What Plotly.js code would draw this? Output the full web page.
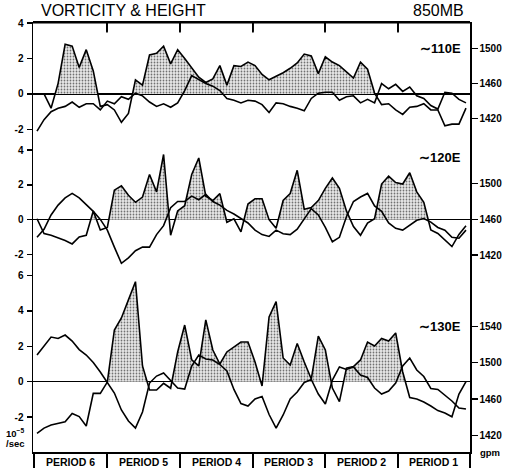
<!DOCTYPE html>
<html><head><meta charset="utf-8">
<script src="https://cdn.plot.ly/plotly-3.0.1.min.js"></script>
<style>html,body{margin:0;padding:0;background:#fff}#chart{width:527px;height:468px}</style>
</head><body><div id="chart"></div>
<script>
// ---- data ----
const days = [0,1,2,3,4,5,6,7,8,9,10,11,12,13,14,15,16,17,18,19,20,21,22,23,24,25,26,27,28,29,30,
  31,32,33,34,35,36,37,38,39,40,41,42,43,44,45,46,47,48,49,50,51,52,53,54,55,56,57,58,59,60,61];
const periodLabels = ["PERIOD 6","PERIOD 5","PERIOD 4","PERIOD 3","PERIOD 2","PERIOD 1"];
const periodEdges = [-0.43, 9.95, 20.33, 30.7, 40.95, 51.33, 61.55];
const panelLabels = ["\u223C110E","\u223C120E","\u223C130E"];

// 110E (vorticity 10^-5/sec, height gpm)
const vort110 = [null,0,-0.8,0.6,2.8,2.7,1.5,2.5,1.3,-0.7,-0.6,-0.9,-1.6,-1.1,0.8,0.5,2.2,2.3,2.7,1.7,
  2.5,2.0,1.45,0.95,0.65,0.85,1.6,0.5,1.6,1.55,1.8,1.6,1.1,0.8,1.0,1.2,1.45,1.75,2.25,2.15,1.15,2.1,1.8,
  1.6,1.25,0.9,1.8,1.4,0.05,-0.6,-0.55,-0.9,-1.15,-0.75,-0.7,-0.55,-0.9,-0.9,-1.8,-1.7,-1.7,-0.8];
const hgt110 = [1406,1419,1428,1432,1434,1439,1433,1437,1437,1430,1440,1437,1445,1442,1449,1446,1439,
  1434,1437,1433,1438,1452,1469,1464,1460,1457,1452,1443,1441,1438,1441,1440,1436,1427,1438,1437,1434,
  1432,1429,1443,1449,1450,1450,1441,1445,1446,1438,1442,1438,1460,1454,1459,1451,1456,1446,1443,1435,
  1431,1450,1449,1442,1438];

// 120E
const vort120 = [0.05,-0.8,-0.9,-1.05,-1.2,-1.4,-1.0,-0.9,0.5,-0.6,-0.45,1.7,1.95,1.4,1.0,1.3,2.6,1.6,
  3.75,-0.9,0.5,0.8,2.6,3.55,1.35,1.1,1.5,-0.15,0.05,-0.7,0.9,1.2,1.2,0.0,-0.5,1.1,1.5,2.84,0.6,0.7,1.1,
  1.8,2.4,1.8,0.5,-0.4,-0.9,-0.2,0.05,2.05,2.5,2.14,2.05,2.7,1.6,1.0,-0.6,-0.8,-1.2,-1.55,-0.85,-0.35];
const hgt120 = [1440,1449,1465,1476,1484,1489,1484,1477,1469,1460,1448,1429,1411,1417,1425,1429,1429,
  1443,1453,1473,1480,1480,1486,1482,1488,1480,1476,1470,1466,1461,1456,1448,1443,1441,1448,1444,1443,
  1449,1460,1472,1465,1451,1435,1440,1463,1480,1485,1489,1475,1469,1456,1450,1448,1454,1459,1461,1457,
  1451,1448,1440,1439,1448];

// 130E
const vort130 = [-2.92,-2.62,-2.45,-2.36,-2.26,-1.80,-1.97,-2.50,-0.66,-0.66,-0.02,2.92,3.60,4.62,5.65,
  0.89,-0.47,-0.47,-0.09,-0.37,1.68,3.20,1.23,0.89,3.49,1.79,1.00,1.68,1.96,2.24,2.24,1.11,-0.24,3.66,
  4.52,1.34,0.94,2.16,1.11,0.15,2.58,1.79,-0.36,-1.13,0.77,0.86,1.23,2.24,2.02,2.44,2.30,2.75,0.55,
  -0.89,-0.98,-1.15,-1.37,-1.63,-1.77,-1.98,-0.70,0.00];
const hgt130 = [1508.5,1518.4,1528.3,1526.7,1530.5,1523.9,1514.5,1508.5,1500.2,1489.8,1478.7,1466.6,
  1447.9,1435.8,1428.0,1445.7,1477.6,1485.3,1488.7,1480.4,1472.1,1471.0,1496.4,1508.5,1504.1,1503.0,
  1498.0,1490.9,1470.5,1455.0,1452.3,1460.0,1462.8,1442.9,1428.0,1442.4,1460.0,1467.7,1478.2,1481.5,
  1465.5,1454.5,1480.9,1495.3,1492.5,1495.3,1486.4,1483.7,1472.1,1465.5,1468.8,1477.6,1496.4,1505.2,
  1492.0,1484.8,1471.6,1470.5,1464.4,1457.8,1450.1,1449.0];

// ---- build ----
function positivePart(x, y) {
  const px = [], py = [];
  for (let i = 0; i < x.length; i++) {
    if (y[i] == null) continue;
    if (i > 0 && y[i-1] != null) {
      const a = y[i-1], b = y[i];
      if ((a > 0 && b < 0) || (a < 0 && b > 0)) {
        const t = a / (a - b);
        px.push(x[i-1] + t * (x[i] - x[i-1])); py.push(0);
      }
    }
    px.push(x[i]); py.push(Math.max(y[i], 0));
  }
  return {px, py};
}

const xr = [-0.57, 61.57];
const topRange = [-3.16, 4.06];   // panel-1 vorticity axis
const topFrame = 4.02;            // frame line just inside the top edge

const panels = [
  {v: vort110, h: hgt110, ya: 'y5', yb: 'y6'},
  {v: vort120, h: hgt120, ya: 'y3', yb: 'y4'},
  {v: vort130, h: hgt130, ya: 'y',  yb: 'y2'}
];
const traces = [];
panels.forEach(p => {
  const pos = positivePart(days, p.v);
  traces.push({x: pos.px, y: pos.py, xaxis: 'x', yaxis: p.ya, mode: 'lines', line: {width: 0, color: '#000'},
    fill: 'tozeroy', fillcolor: '#d8d8d8',
    fillpattern: {shape: '.', bgcolor: '#e9e9e9', fgcolor: '#707070', size: 3, solidity: 0.28},
    hoverinfo: 'skip'});
});
panels.forEach(p => {
  traces.push({x: days, y: p.v, xaxis: 'x', yaxis: p.ya, mode: 'lines',
    line: {color: '#000', width: 1.6}, connectgaps: false});
  traces.push({x: days, y: p.h, xaxis: 'x', yaxis: p.yb, mode: 'lines',
    line: {color: '#000', width: 1.6}});
});
// top frame and the period marks hanging from it (built from the axis range and period edges)
const fx = [xr[0], xr[1]], fy = [topFrame, topFrame];
periodEdges.slice(1, -1).forEach(e => { fx.push(null, e, e); fy.push(null, topFrame, topFrame - 0.55); });
traces.push({x: fx, y: fy, xaxis: 'x', yaxis: 'y5', mode: 'lines', line: {color: '#000', width: 1.8},
  connectgaps: false, hoverinfo: 'skip'});

const periodMids = periodLabels.map((_, i) => (periodEdges[i] + periodEdges[i+1]) / 2);
const FAM = 'Liberation Sans, Arial, sans-serif';
const tf = {family: FAM, size: 10, color: '#000', weight: 700};
function leftAx(domain, range, vals) {
  return {domain, range, anchor: 'x', tickvals: vals, ticktext: vals.map(v => String(v)),
    ticks: 'outside', ticklen: 5, tickwidth: 1.5, tickcolor: '#000', showline: true, linecolor: '#000',
    linewidth: 1.5, showgrid: false, zeroline: true, zerolinecolor: '#000', zerolinewidth: 1.5,
    tickfont: tf, ticklabelstandoff: 1};
}
function rightAx(over, range, vals) {
  return {overlaying: over, side: 'right', anchor: 'x', range, tickvals: vals, ticks: 'outside', ticklen: 6,
    tickwidth: 1.5, tickcolor: '#000', showline: true, linecolor: '#000', linewidth: 1.5, showgrid: false,
    zeroline: false, tickfont: tf, ticklabelstandoff: 0};
}
const d3 = [0, 0.4233], d2 = [0.4233, 0.7023], d1 = [0.7023, 1];
const annotations = [
  {text: 'VORTICITY &amp; HEIGHT', xref: 'paper', yref: 'paper', x: 0.014, y: 1.027, xanchor: 'left',
    yanchor: 'middle', showarrow: false, font: {size: 16, color: '#000'}},
  {text: '850MB', xref: 'paper', yref: 'paper', x: 0.99, y: 1.027, xanchor: 'right',
    yanchor: 'middle', showarrow: false, font: {size: 16, color: '#000'}},
  {text: '10<sup>\u22125</sup>', xref: 'paper', yref: 'paper', x: -0.066, y: 0.045, xanchor: 'left',
    yanchor: 'middle', showarrow: false, font: {size: 9.5, color: '#000', weight: 700}},
  {text: '/sec', xref: 'paper', yref: 'paper', x: -0.066, y: 0.019, xanchor: 'left',
    yanchor: 'middle', showarrow: false, font: {size: 9.5, color: '#000', weight: 700}},
  {text: 'gpm', xref: 'paper', yref: 'paper', x: 1.018, y: 0.0, xanchor: 'left',
    yanchor: 'middle', showarrow: false, font: {size: 9.5, color: '#000', weight: 700}}
];
const labelY = [0.9395, 0.686, 0.293];
panelLabels.forEach((t, i) => annotations.push({text: t, xref: 'paper', yref: 'paper', x: 0.985, y: labelY[i],
  xanchor: 'right', yanchor: 'middle', showarrow: false, font: {size: 13, color: '#000', weight: 700}}));
periodLabels.forEach((t, i) => annotations.push({text: t, xref: 'x', yref: 'paper', x: periodMids[i],
  y: -0.0235, xanchor: 'center', yanchor: 'middle', showarrow: false,
  font: {family: FAM, size: 10.5, color: '#000', weight: 700}}));

// top border of the frame, plus its period marks, as layout shapes (paper / x coordinates)
const shapes = [{type: 'line', xref: 'paper', yref: 'paper', x0: 0, x1: 1, y0: 1, y1: 1,
  line: {color: '#000', width: 1.8}}];
periodEdges.slice(1, -1).forEach(e => shapes.push({type: 'line', xref: 'x', yref: 'paper', x0: e, x1: e,
  y0: 1, y1: 0.978, line: {color: '#000', width: 1.6}}));

const layout = {
  width: 527, height: 468,
  margin: {l: 33, r: 57, t: 22, b: 16},
  paper_bgcolor: '#fff', plot_bgcolor: 'rgba(0,0,0,0)',
  showlegend: false,
  font: {family: FAM, color: '#000', size: 10},
  xaxis: {range: xr, anchor: 'y', showgrid: false, zeroline: false, showline: true, linecolor: '#000',
    linewidth: 1.5, ticks: 'outside', ticklen: 16, tickwidth: 1.5, tickcolor: '#000',
    tickvals: periodEdges, showticklabels: false},
  yaxis: leftAx(d3, [-3.97, 6.31], [-2, 0, 2, 4, 6]),
  yaxis2: rightAx('y', [1401.6, 1602.2], [1420, 1460, 1500, 1540]),
  yaxis3: leftAx(d2, [-2.9, 4.01], [-2, 0, 2, 4]),
  yaxis4: rightAx('y3', [1403.5, 1537.5], [1420, 1460, 1500]),
  yaxis5: leftAx(d1, topRange, [-2, 0, 2, 4]),
  yaxis6: rightAx('y5', [1384.5, 1529.8], [1420, 1460, 1500]),
  shapes: shapes,
  annotations: annotations
};
Plotly.newPlot('chart', traces, layout, {staticPlot: true, displayModeBar: false});
</script>
</body></html>
